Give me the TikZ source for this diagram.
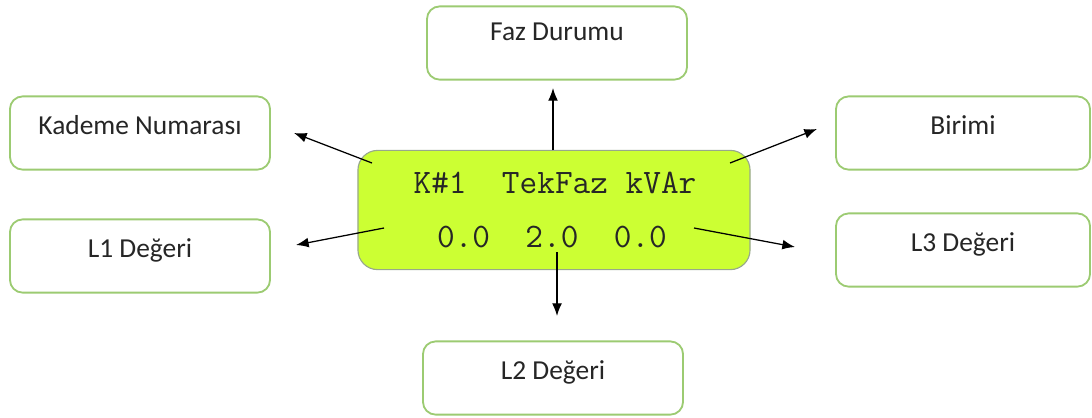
\documentclass[tikz,border=0pt]{standalone}
\usepackage{fontspec}
\setmainfont{Carlito}
\usepackage{xcolor}
\usetikzlibrary{arrows.meta}

\definecolor{boxgreen}{HTML}{9CCB72}
\definecolor{lcdfill}{HTML}{CCFF33}
\definecolor{lcdedge}{HTML}{98A88C}

\begin{document}
\begin{tikzpicture}[x=0.025cm,y=-0.025cm,
    infobox/.style={draw=boxgreen,line width=1.3pt,rounded corners=9pt,fill=white,
        minimum width=6.5cm,minimum height=1.83cm,font=\fontsize{19.5}{23}\selectfont,
        text height=14pt,text depth=12pt,text=black!85},
    lcdbox/.style={draw=lcdedge,line width=0.8pt,rounded corners=14pt,fill=lcdfill,
        minimum width=9.8cm,minimum height=2.98cm},
    lcdtext/.style={font=\ttfamily\fontsize{24.4}{28}\selectfont,text=black!85,inner sep=0pt},
    arr/.style={line width=0.9pt,-{Latex[length=9pt,width=7pt]}}]
    \useasboundingbox (0,0) rectangle (1092,417);

    % kutular
    \node[infobox,text depth=17pt] (faz) at (557,43) {Faz Durumu};
    \node[infobox] (kademe) at (140,133) {Kademe Numarası};
    \node[infobox] (lbir) at (140,256) {L1 Değeri};
    \node[infobox,minimum width=6.35cm] (birim) at (963,133) {Birimi};
    \node[infobox,minimum width=6.35cm] (luc) at (963,250) {L3 Değeri};
    \node[infobox] (liki) at (553,378) {L2 Değeri};

    % ekran
    \node[lcdbox] (lcd) at (554,210) {};
    \node[lcdtext,anchor=base] (satir1) at (555,193) {K\#1~~TekFaz~kVAr};
    \node[lcdtext,anchor=base] (satir2) at (552,247) {0.0~~2.0~~0.0};

    % ok uclari
    \coordinate (a1) at (553,150);  \coordinate (b1) at (553,88);
    \coordinate (a2) at (557,252);  \coordinate (b2) at (557,316);
    \coordinate (a3) at (372,163);  \coordinate (b3) at (294,133);
    \coordinate (a4) at (384,228);  \coordinate (b4) at (296,245);
    \coordinate (a5) at (730,163);  \coordinate (b5) at (817,129);
    \coordinate (a6) at (694,228);  \coordinate (b6) at (795,247);

    \foreach \i in {1,...,6}
        \draw[arr] (a\i) -- (b\i);
\end{tikzpicture}
\end{document}
